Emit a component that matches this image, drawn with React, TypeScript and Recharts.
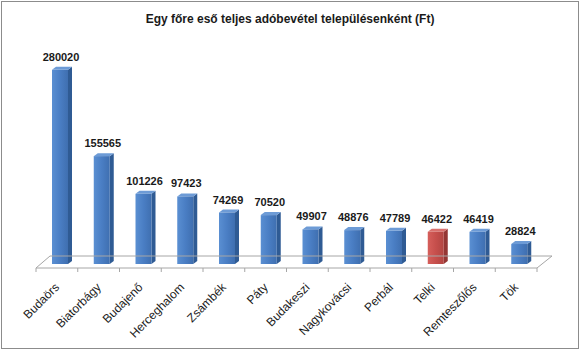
import { BarChart, Bar, XAxis, YAxis, LabelList, ReferenceLine } from "recharts";

const towns = [
  "Budaörs",
  "Biatorbágy",
  "Budajenő",
  "Herceghalom",
  "Zsámbék",
  "Páty",
  "Budakeszi",
  "Nagykovácsi",
  "Perbál",
  "Telki",
  "Remteszőlős",
  "Tök",
];
const revenuePerHead = [280020, 155565, 101226, 97423, 74269, 70520, 49907, 48876, 47789, 46422, 46419, 28824];
const highlighted = ["Telki"];

const chartData = towns.map((name, i) => ({ name, value: revenuePerHead[i] }));

const FONT = "'Liberation Sans', Arial, sans-serif";
const DEPTH_X = 4;
const DEPTH_Y = 3;
const SHIFT = 3;

const blue = { front: "url(#gradBlue)", side: "#2f5b94", top: "#6d9bd6" };
const red = { front: "url(#gradRed)", side: "#943634", top: "#d8706d" };

function Bar3D(props: any) {
  const { x, y, width, height, payload } = props;
  if (height <= 0) return null;
  const c = highlighted.includes(payload.name) ? red : blue;
  const bx = x + SHIFT;
  const side = `${bx + width},${y} ${bx + width + DEPTH_X},${y - DEPTH_Y} ${bx + width + DEPTH_X},${y + height - DEPTH_Y} ${bx + width},${y + height}`;
  const top = `${bx},${y} ${bx + DEPTH_X},${y - DEPTH_Y} ${bx + width + DEPTH_X},${y - DEPTH_Y} ${bx + width},${y}`;
  return (
    <g>
      <polygon points={side} fill={c.side} />
      <polygon points={top} fill={c.top} />
      <rect x={bx} y={y} width={width} height={height} fill={c.front} />
    </g>
  );
}

function Floor(props: any) {
  const { x1, y1, x2 } = props;
  const front = y1 + 4;
  const back = y1 - 8;
  const n = towns.length;
  const step = (x2 - x1) / n;
  const ticks = Array.from({ length: n + 1 }, (_, i) => x1 + i * step);
  return (
    <g stroke="#a6a6a6" strokeWidth={1} fill="none">
      <polygon points={`${x1},${front} ${x1 + 14},${back} ${x2 + 15},${back} ${x2},${front}`} />
      {ticks.map((tx, i) => (
        <line key={i} x1={tx} y1={front} x2={tx} y2={front + 4} />
      ))}
    </g>
  );
}

function TownTick(props: any) {
  const { x, y, payload } = props;
  const ax = x + 3;
  const ay = y + 24;
  return (
    <text
      x={ax}
      y={ay}
      transform={`rotate(-45, ${ax}, ${ay})`}
      textAnchor="end"
      fontSize={12}
      fontFamily={FONT}
      fill="#1a1a1a"
    >
      {payload.value}
    </text>
  );
}

function ValueLabel(props: any) {
  const { x, y, width, value } = props;
  return (
    <text
      x={x + width / 2 + SHIFT + 1}
      y={y - 9}
      textAnchor="middle"
      fontSize={11}
      fontWeight="bold"
      fontFamily={FONT}
      fill="#1a1a1a"
    >
      {value}
    </text>
  );
}

export default function App() {
  return (
    <div style={{ position: "absolute", left: 0, top: 0, width: 580, height: 350, background: "#fff" }}>
      <div
        style={{
          position: "absolute",
          left: 1,
          top: 1,
          width: 576,
          height: 346,
          border: "1px solid #8c8c8c",
          pointerEvents: "none",
        }}
      />
      <div
        style={{
          position: "absolute",
          left: 0,
          top: 12,
          width: 580,
          textAlign: "center",
          fontFamily: FONT,
          fontWeight: "bold",
          fontSize: 12,
          color: "#1a1a1a",
        }}
      >
        Egy főre eső teljes adóbevétel településenként (Ft)
      </div>
      <BarChart
        width={580}
        height={350}
        data={chartData}
        margin={{ top: 56, right: 43, bottom: 26, left: 36 }}
        barSize={16}
      >
        <defs>
          <linearGradient id="gradBlue" x1="0" y1="0" x2="1" y2="0">
            <stop offset="0%" stopColor="#5a8fd2" />
            <stop offset="50%" stopColor="#4a7ec4" />
            <stop offset="100%" stopColor="#3f6fb0" />
          </linearGradient>
          <linearGradient id="gradRed" x1="0" y1="0" x2="1" y2="0">
            <stop offset="0%" stopColor="#d65f5b" />
            <stop offset="50%" stopColor="#c64f4c" />
            <stop offset="100%" stopColor="#b24542" />
          </linearGradient>
        </defs>
        <YAxis hide domain={[0, 300000]} />
        <XAxis
          dataKey="name"
          interval={0}
          height={60}
          axisLine={false}
          tickLine={false}
          tickSize={0}
          tickMargin={0}
          tick={<TownTick />}
        />
        <ReferenceLine y={0} stroke="#a6a6a6" shape={<Floor />} />
        <Bar dataKey="value" shape={<Bar3D />} isAnimationActive={false}>
          <LabelList dataKey="value" content={<ValueLabel />} />
        </Bar>
      </BarChart>
    </div>
  );
}
